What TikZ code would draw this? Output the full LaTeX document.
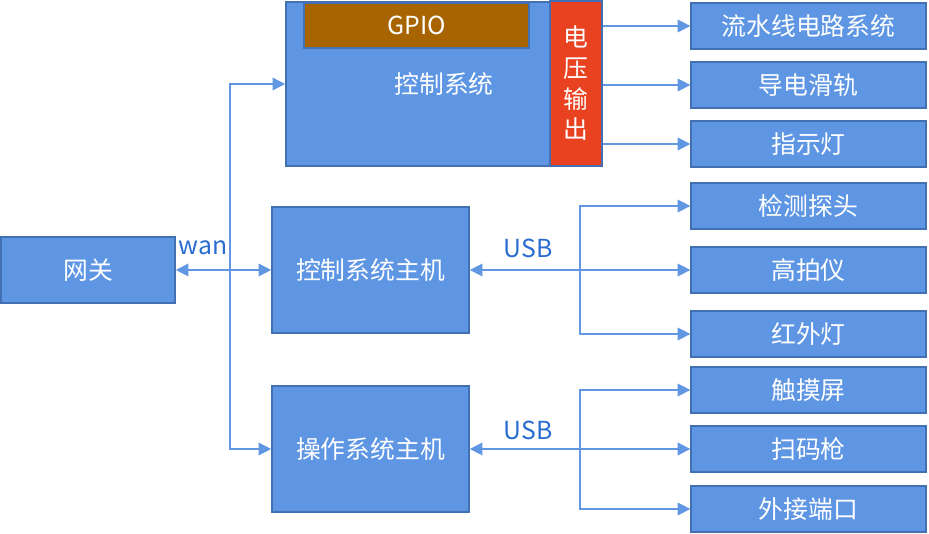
\documentclass[tikz,border=0pt]{standalone}
\usepackage{fontspec}
\setmainfont{Noto Sans CJK SC}
\usepackage{tikz}
\usetikzlibrary{arrows.meta, positioning, calc}
\definecolor{boxblue}{RGB}{94,150,228}
\definecolor{edgeblue}{RGB}{66,112,178}
\definecolor{lineblue}{RGB}{96,150,226}
\definecolor{labelblue}{RGB}{40,108,208}
\definecolor{gpiobrown}{RGB}{168,100,0}
\definecolor{voltred}{RGB}{232,66,32}

\begin{document}
\begin{tikzpicture}[x=0.75pt, y=-0.75pt,
        box/.style={draw=edgeblue, line width=1.2pt, fill=boxblue, text=white, align=center, inner sep=0pt, font=\fontsize{18.6}{20}\selectfont},
        device/.style={box, minimum width=176pt, minimum height=34.5pt},
        host/.style={box, minimum width=147.75pt, minimum height=94.5pt},
        arrow/.style={draw=lineblue, line width=1pt, -{Triangle[width=9.5pt, length=9.5pt]}},
        lbl/.style={text=labelblue, font=\fontsize{18.6}{20}\selectfont}
    ]
        \useasboundingbox (0,0) rectangle (929,534);

        % left side
        \node[box, minimum width=130.5pt, minimum height=49.5pt] (gw) at (88, 270) {网关};
        \node[host] (host1) at (370.5, 270) {控制系统主机};
        \node[host] (host2) at (370.5, 449) {操作系统主机};

        % control system block
        \node[box, minimum width=198pt, minimum height=123pt] (ctrl) at (418, 84) {};
        \node[box, fill=gpiobrown, minimum width=168.75pt, minimum height=33.75pt] (gpio) at (416.5, 25.5) {GPIO};
        \node[text=white, font=\fontsize{18.6}{20}\selectfont] (ctrltext) at (444, 84) {控制系统};
        \node[box, fill=voltred, minimum width=39pt, minimum height=123.75pt, font=\fontsize{18.6}{23}\selectfont] (volt) at (576, 83.5) {电\\压\\输\\出};

        % devices
        \node[device] (pipe) at (808.5, 26) {流水线电路系统};
        \node[device] (rail) at (808.5, 85) {导电滑轨};
        \node[device] (lamp) at (808.5, 144) {指示灯};
        \node[device] (probe) at (808.5, 206) {检测探头};
        \node[device] (scan) at (808.5, 270) {高拍仪};
        \node[device] (ir) at (808.5, 334) {红外灯};
        \node[device] (touch) at (808.5, 390) {触摸屏};
        \node[device] (code) at (808.5, 449) {扫码枪};
        \node[device] (port) at (808.5, 509) {外接端口};

        % junctions
        \coordinate (wan) at (230, 270);
        \coordinate (usba) at (580, 270);
        \coordinate (usbb) at (580, 449);

        % wan
        \draw[arrow] (wan) -- (gw.east);
        \draw[arrow] (wan) -- (host1.west);
        \draw[arrow] (wan) |- (ctrl.west);
        \draw[arrow] (wan) |- (host2.west);
        \node[lbl] (wanlbl) at (203, 248) {wan};

        % voltage output
        \draw[arrow] (volt.east |- pipe.west) -- (pipe.west);
        \draw[arrow] (volt.east |- rail.west) -- (rail.west);
        \draw[arrow] (volt.east |- lamp.west) -- (lamp.west);

        % usb upper
        \draw[arrow] (usba) -- (host1.east);
        \draw[arrow] (usba) |- (probe.west);
        \draw[arrow] (usba) -- (scan.west);
        \draw[arrow] (usba) |- (ir.west);
        \node[lbl] (usbalbl) at (528, 248) {USB};

        % usb lower
        \draw[arrow] (usbb) -- (host2.east);
        \draw[arrow] (usbb) |- (touch.west);
        \draw[arrow] (usbb) -- (code.west);
        \draw[arrow] (usbb) |- (port.west);
        \node[lbl] (usbblbl) at (528, 430) {USB};

    \end{tikzpicture}
\end{document}
